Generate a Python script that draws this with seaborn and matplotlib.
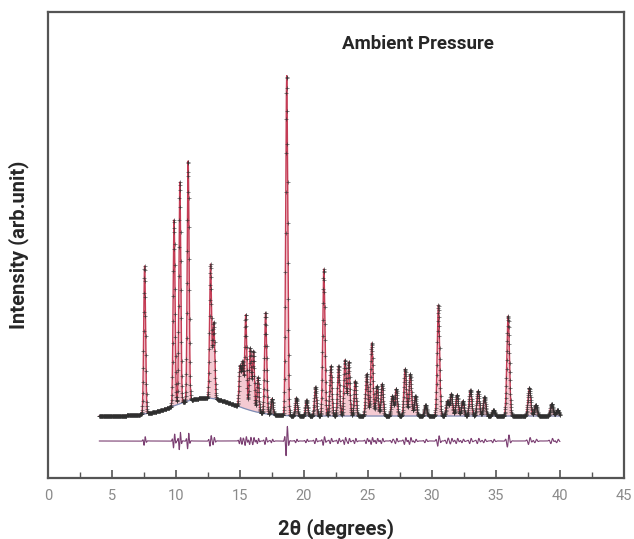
import matplotlib
matplotlib.use("Agg")
import matplotlib.pyplot as plt
from matplotlib import ticker
import numpy as np
import pandas as pd
import seaborn as sns

sns.set_style("white")
plt.rcParams['font.family'] = ['Roboto', 'DejaVu Sans']

# peak table: 2theta position, height above background (plot units), FWHM (deg)
peak_pos = [7.55, 9.85, 10.3, 10.95, 12.7, 12.95, 15.0, 15.2, 15.45, 15.8, 16.05, 16.4, 17.0, 17.5,
            18.65, 19.4, 20.2, 20.9, 21.55, 22.1, 22.7, 23.2, 23.5, 24.0, 24.9, 25.3, 25.7, 26.1,
            26.9, 27.2, 27.9, 28.3, 28.7, 29.5, 30.5, 31.2, 31.5, 31.95, 32.4, 33.0, 33.6, 34.1,
            34.8, 35.95, 37.6, 38.1, 39.35, 39.8]
peak_height = [148, 186, 222, 240, 134, 76, 40, 45, 94, 62, 60, 35, 101, 16,
               340, 18, 16, 29, 147, 50, 50, 56, 54, 35, 42, 73, 30, 32,
               20, 27, 47, 42, 20, 11, 111, 15, 22, 21, 15, 26, 25, 19,
               6, 100, 28, 11, 12, 6]
peak_fwhm = [0.17, 0.17, 0.17, 0.17, 0.18, 0.18, 0.18, 0.18, 0.18, 0.18, 0.18, 0.18, 0.19, 0.19,
             0.19, 0.2, 0.2, 0.2, 0.2, 0.2, 0.2, 0.2, 0.2, 0.2, 0.21, 0.21, 0.21, 0.21,
             0.21, 0.21, 0.22, 0.22, 0.22, 0.22, 0.22, 0.23, 0.23, 0.23, 0.23, 0.23, 0.23, 0.23,
             0.23, 0.24, 0.25, 0.25, 0.25, 0.25]
# misfit amplitude in the difference curve at each peak
diff_amp = [5, 8, 10, 9, 6, 4, 3, 3, 5, 4, 4, 3, 4, 2,
            17, 2, 2, 3, 5, 3, 3, 4, 3, 3, 3, 4, 3, 3,
            2, 3, 4, 4, 2, 2, 6, 3, 3, 3, 2, 3, 3, 2,
            2, 7, 4, 2, 3, 2]

# background: flat level plus the amorphous hump near 12 deg
bg_level = 62
hump_center, hump_height, hump_sigma = 12.3, 18, 2.3
diff_offset = 37
two_theta_min, two_theta_max, step = 4.0, 40.0, 0.008

x = np.arange(two_theta_min, two_theta_max + step, step)
bg = bg_level + hump_height * np.exp(-(x - hump_center) ** 2 / (2 * hump_sigma ** 2))
calc = bg.copy()
diff = np.full_like(x, diff_offset, dtype=float)
for mu, h, w, a in zip(peak_pos, peak_height, peak_fwhm, diff_amp):
    s = w / 2.355
    u = (x - mu) / s
    calc += h * np.exp(-u ** 2 / 2)
    diff += a * np.sin(2.2 * u) * np.exp(-u ** 2 / 3)

df = pd.DataFrame({"two_theta": x, "obs": calc, "calc": calc, "bg": bg, "diff": diff})
obs = df.iloc[::2]

fig = plt.figure(figsize=(6.34, 5.39), dpi=100)
ax = fig.add_axes([48 / 634, 1 - 478 / 539, 576 / 634, 466 / 539])

ax.fill_between(df["two_theta"], df["bg"], df["calc"], color="#f1b9c4", alpha=0.75, lw=0)
sns.lineplot(data=df, x="two_theta", y="bg", ax=ax, color="#7d8db5", lw=0.9)
sns.lineplot(data=df, x="two_theta", y="calc", ax=ax, color="#c43c55", lw=1.0)
ax.plot(obs["two_theta"], obs["obs"], ls="none", marker="+", ms=2.8, mew=0.5, color="#2e2e2e",
        alpha=0.8, zorder=3)
sns.lineplot(data=df, x="two_theta", y="diff", ax=ax, color="#7b3f72", lw=0.8)

ax.set_xlim(0, 45)
ax.set_ylim(0, 466)
ax.xaxis.set_major_locator(ticker.MultipleLocator(5))
ax.xaxis.set_minor_locator(ticker.MultipleLocator(2.5))
ax.tick_params(axis="x", which="major", direction="in", length=6, width=1.2, color="#555555",
               labelsize=10.5, labelcolor="#8a8a8a", pad=8, bottom=True, top=False)
ax.tick_params(axis="x", which="minor", direction="in", length=4, width=1.0, color="#555555",
               bottom=True, top=False)
ax.set_yticks([])
for sp in ax.spines.values():
    sp.set_color("#555555")
    sp.set_linewidth(1.6)

ax.set_xlabel("2θ (degrees)", fontsize=14.5, fontweight="bold", labelpad=11)
ax.set_ylabel("Intensity (arb.unit)", fontsize=14.5, fontweight="bold", labelpad=14)
ax.text(0.51, 0.931, "Ambient Pressure", transform=ax.transAxes, fontsize=13.5,
        fontweight="bold", ha="left", va="center")

fig.savefig("out.png", dpi=100)
